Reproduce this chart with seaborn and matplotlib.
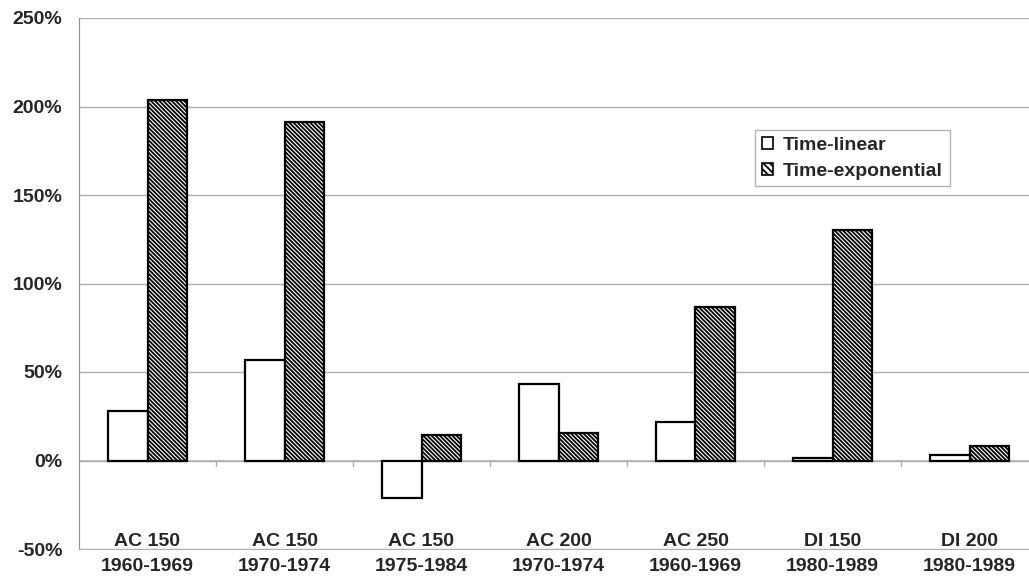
import matplotlib
matplotlib.use("Agg")
import matplotlib.pyplot as plt
import seaborn as sns
import pandas as pd
from matplotlib.ticker import FuncFormatter
from matplotlib.patches import Patch

categories = ["AC 150\n1960-1969", "AC 150\n1970-1974", "AC 150\n1975-1984",
              "AC 200\n1970-1974", "AC 250\n1960-1969", "DI 150\n1980-1989",
              "DI 200\n1980-1989"]
series_names = ["Time-linear", "Time-exponential"]
time_linear = [28, 57, -21, 43, 22, 1.5, 3]
time_exponential = [203.5, 191.5, 14.5, 15.5, 87, 130, 8]
yticks = [-50, 0, 50, 100, 150, 200, 250]

df = pd.DataFrame({
    "category": categories * 2,
    "series": [series_names[0]] * len(categories) + [series_names[1]] * len(categories),
    "value": time_linear + time_exponential,
})

sns.set_style("white")
plt.rcParams["font.family"] = ["Liberation Sans", "DejaVu Sans"]
plt.rcParams["font.weight"] = "bold"
plt.rcParams["hatch.linewidth"] = 1.3

HATCH = "\\" * 8

fig = plt.figure(figsize=(10.29, 5.77), dpi=100)
ax = fig.add_axes([79 / 1029, 1 - 549 / 577, 959 / 1029, (549 - 18) / 577])

sns.barplot(data=df, x="category", y="value", hue="series", order=categories,
            hue_order=series_names, palette=["white", "white"], width=0.58,
            edgecolor="black", linewidth=1.6, ax=ax, legend=False, errorbar=None)

for bar in ax.containers[1]:
    bar.set_hatch(HATCH)

ax.set_ylim(-50, 250)
ax.set_xlim(-0.5, len(categories) - 0.5)
ax.set_yticks(yticks)
ax.yaxis.set_major_formatter(FuncFormatter(lambda v, p: f"{v:.0f}%"))
ax.yaxis.grid(True, color="#b0b0b0", linewidth=1)
ax.set_axisbelow(True)
ax.axhline(0, color="#b0b0b0", linewidth=1.2, zorder=0.5)
for i in range(len(categories) - 1):
    ax.plot([i + 0.5, i + 0.5], [0, -3], color="#b0b0b0", linewidth=1, zorder=0.5)

for side in ["top", "right"]:
    ax.spines[side].set_visible(False)
ax.spines["left"].set_color("#909090")
ax.spines["bottom"].set_color("#b0b0b0")

ax.set_xlabel("")
ax.set_ylabel("")
ax.tick_params(axis="y", length=5, color="#909090", labelsize=14, pad=7)
ax.tick_params(axis="x", length=0, labelsize=14, pad=3.5)
for lbl in ax.get_xticklabels():
    lbl.set_va("center")
    lbl.set_linespacing(1.62)
    lbl.set_fontweight("bold")
for lbl in ax.get_yticklabels():
    lbl.set_fontweight("bold")

handles = [Patch(facecolor="white", edgecolor="black", linewidth=1.2),
           Patch(facecolor="white", edgecolor="black", linewidth=1.2, hatch="\\" * 5)]
leg = ax.legend(handles, series_names, loc="upper left",
                bbox_to_anchor=(755 / 1029, 1 - 130 / 577), bbox_transform=fig.transFigure,
                prop={"weight": "bold", "size": 14}, frameon=True, fancybox=False,
                edgecolor="#a0a0a0", handlelength=0.6, handleheight=0.6,
                handletextpad=0.5, borderpad=0.35, labelspacing=0.45, borderaxespad=0)
leg.get_frame().set_linewidth(1)

fig.savefig("out.png", dpi=100, facecolor="white")
